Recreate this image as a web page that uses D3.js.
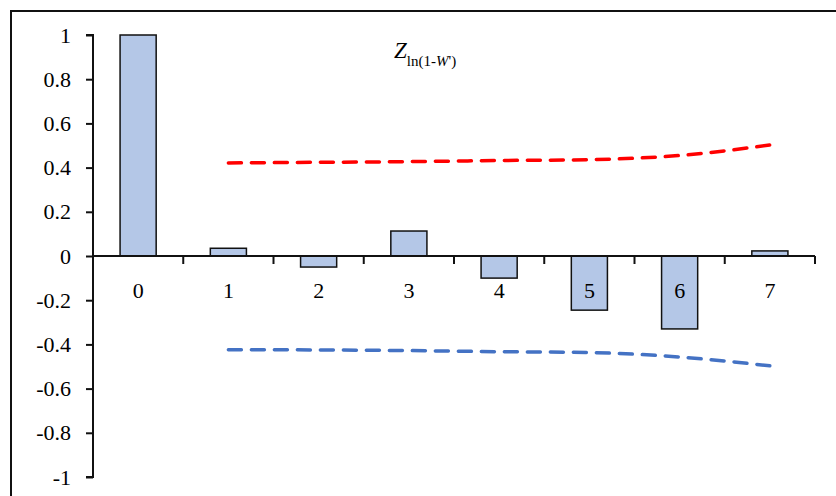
<!DOCTYPE html>
<html><head><meta charset="utf-8">
<script src="https://cdn.jsdelivr.net/npm/d3@7"></script>
<style>body{margin:0;background:#fff}svg{display:block}text{font-family:"Liberation Serif","Times New Roman",serif}</style>
</head><body>
<svg id="c" width="836" height="496"></svg>
<script>
const categories = ["0","1","2","3","4","5","6","7"];
const barValues = [1.0, 0.035, -0.05, 0.113, -0.1, -0.245, -0.33, 0.023];
const upperLags = ["1","2","3","4","5","6","7"];
const upperBound = [0.421, 0.424, 0.427, 0.432, 0.436, 0.455, 0.502];
const lowerBound = [-0.424, -0.425, -0.428, -0.433, -0.437, -0.457, -0.497];
const yTicks = [1, 0.8, 0.6, 0.4, 0.2, 0, -0.2, -0.4, -0.6, -0.8, -1];

const svg = d3.select("#c");
svg.append("rect").attr("x",11).attr("y",11).attr("width",840).attr("height",500)
  .attr("fill","none").attr("stroke","#111").attr("stroke-width",2);

const x = d3.scaleBand().domain(categories).range([93,815]).paddingInner(0.6).paddingOuter(0.3);
const y = d3.scaleLinear().domain([-1,1]).range([477,35]);
const xc = d => x(d) + x.bandwidth()/2;

// bars
svg.append("g").selectAll("rect").data(barValues).join("rect")
  .attr("x",(d,i)=>x(categories[i]))
  .attr("width",x.bandwidth())
  .attr("y",d=>y(Math.max(0,d)))
  .attr("height",d=>Math.abs(y(d)-y(0)))
  .attr("fill","#b4c7e7").attr("stroke","#111").attr("stroke-width",1.5);

// y axis
const yAxis = svg.append("g").attr("transform","translate(93,0)")
  .call(d3.axisLeft(y).tickValues(yTicks).tickSize(7).tickPadding(15).tickFormat(d=>String(+d.toFixed(1))));
yAxis.select(".domain").attr("stroke","#111").attr("stroke-width",2).attr("d","M-7,35H0V477H-7");
yAxis.selectAll(".tick line").attr("stroke","#111").attr("stroke-width",2);
yAxis.selectAll(".tick text").attr("font-size",22).attr("fill","#000").attr("font-family","Liberation Serif");

// x axis line and ticks at band boundaries
const bounds = d3.range(0,9).map(i=>93 + i*(815-93)/8);
const xg = svg.append("g");
xg.append("line").attr("x1",93).attr("x2",815).attr("y1",y(0)).attr("y2",y(0)).attr("stroke","#111").attr("stroke-width",2);
xg.selectAll("line.t").data(bounds.slice(1)).join("line").attr("class","t")
  .attr("x1",d=>d).attr("x2",d=>d).attr("y1",y(0)).attr("y2",y(0)+8)
  .attr("stroke","#111").attr("stroke-width",2);
xg.selectAll("text").data(categories).join("text")
  .attr("x",d=>xc(d)).attr("y",y(0)+42).attr("text-anchor","middle")
  .attr("font-size",22).attr("fill","#000").text(d=>d);

// bounds lines
const line = d3.line().x((d,i)=>xc(upperLags[i])).y(d=>y(d)).curve(d3.curveMonotoneX);
svg.append("path").datum(upperBound).attr("d",line).attr("fill","none")
  .attr("stroke","#ff0000").attr("stroke-width",3.5).attr("stroke-dasharray","13,10").attr("stroke-linecap","round");
svg.append("path").datum(lowerBound).attr("d",line).attr("fill","none")
  .attr("stroke","#4472c4").attr("stroke-width",3.5).attr("stroke-dasharray","13,10").attr("stroke-linecap","round");

// title
const t = svg.append("text").attr("x",394).attr("y",58).attr("fill","#000");
t.append("tspan").attr("font-style","italic").attr("font-size",23).text("Z");
t.append("tspan").attr("font-size",15).attr("dy",8).text("ln(1-");
t.append("tspan").attr("font-size",15).attr("font-style","italic").text("W");
t.append("tspan").attr("font-size",15).text("')");
</script>
</body></html>
